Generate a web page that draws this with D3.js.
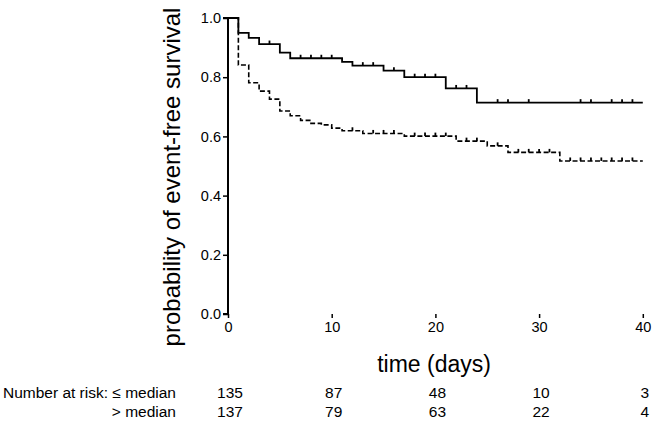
<!DOCTYPE html>
<html>
<head>
<meta charset="utf-8">
<script src="https://cdn.jsdelivr.net/npm/d3@7"></script>
<style>
  html, body { margin: 0; padding: 0; background: #fff; }
  svg { display: block; font-family: "Liberation Sans", Arial, Helvetica, sans-serif; }
</style>
</head>
<body>
<svg id="chart" width="652" height="433"></svg>
<script>
// ---- data ----
const solidTimes  = [1, 2, 3, 5, 6, 11, 12, 15, 17, 21, 24];
const solidValues = [0.950, 0.933, 0.912, 0.883, 0.864, 0.852, 0.839, 0.822, 0.800, 0.762, 0.714];
const solidCensored = [4, 7, 8, 9, 10, 13, 14, 16, 18, 19, 20, 22, 23, 26, 27, 29, 34, 35, 37, 38, 39];

const dashedTimes  = [1, 2, 3, 4, 5, 6, 7, 8, 9, 10, 11, 13, 17, 22, 25, 27, 32];
const dashedValues = [0.841, 0.781, 0.753, 0.726, 0.686, 0.670, 0.654, 0.644, 0.639, 0.628, 0.619, 0.610, 0.601, 0.584, 0.568, 0.546, 0.517];
const dashedCensored = [12, 14, 15, 16, 18, 19, 20, 21, 23, 24, 26, 28, 29, 30, 31, 33, 34, 35, 36, 37, 38, 39];

const xTicks = [0, 10, 20, 30, 40];
const yTicks = [0, 0.2, 0.4, 0.6, 0.8, 1.0];
const riskTimes = [0, 10, 20, 30, 40];
const riskLow  = [135, 87, 48, 10, 3];
const riskHigh = [137, 79, 63, 22, 4];
const riskLabels = ["Number at risk: \u2264 median", "> median"];
const xTitle = "time (days)";
const yTitle = "probability of event-free survival";

// ---- layout ----
const svg = d3.select("#chart");
const x = d3.scaleLinear().domain([0, 40]).range([228, 642.8]);
const y = d3.scaleLinear().domain([0, 1]).range([314, 18]);

function stepPoints(times, values, tEnd) {
  const pts = [[0, 1]];
  times.forEach((t, i) => pts.push([t, values[i]]));
  pts.push([tEnd, values[values.length - 1]]);
  return pts;
}
function valueAt(times, values, t) {
  let v = 1;
  times.forEach((tt, i) => { if (tt <= t) v = values[i]; });
  return v;
}

const line = d3.line().x(d => x(d[0])).y(d => y(d[1])).curve(d3.curveStepAfter);

// axes
const yAxis = d3.axisLeft(y).tickValues(yTicks).tickFormat(d3.format(".1f")).tickSize(5).tickPadding(2);
const xAxis = d3.axisBottom(x).tickValues(xTicks).tickFormat(d3.format("d")).tickSize(4).tickPadding(4);

const gy = svg.append("g").attr("transform", `translate(${x(0)},0)`).call(yAxis);
const gx = svg.append("g").attr("transform", `translate(0,${y(0)})`).call(xAxis);
[gx, gy].forEach(g => {
  g.select(".domain").attr("stroke", "#000").attr("stroke-width", 2);
  g.selectAll(".tick line").attr("stroke", "#000").attr("stroke-width", 1.5);
  g.selectAll(".tick text").attr("fill", "#000").style("font-size", "14.5px")
    .style("font-family", '"Liberation Sans", Arial, sans-serif');
});
gy.select(".domain").attr("d", `M-5,${y(0)}H0V${y(1)}H-5`);
gx.select(".domain").attr("d", `M${x(0)},${y(0)}H${x(40)}V${y(0)+4}`);

// curves
svg.append("path")
  .attr("d", line(stepPoints(solidTimes, solidValues, 40)))
  .attr("fill", "none").attr("stroke", "#000").attr("stroke-width", 1.8);
svg.append("path")
  .attr("d", line(stepPoints(dashedTimes, dashedValues, 40)))
  .attr("fill", "none").attr("stroke", "#000").attr("stroke-width", 1.6)
  .attr("stroke-dasharray", "5,2.5");

// censor marks
function censorMarks(times, values, cens) {
  svg.append("g").selectAll("line").data(cens).join("line")
    .attr("x1", d => x(d)).attr("x2", d => x(d))
    .attr("y1", d => y(valueAt(times, values, d)))
    .attr("y2", d => y(valueAt(times, values, d)) - 3.5)
    .attr("stroke", "#000").attr("stroke-width", 1.8);
}
censorMarks(solidTimes, solidValues, solidCensored);
censorMarks(dashedTimes, dashedValues, dashedCensored);

// titles
svg.append("text")
  .attr("transform", `translate(180,177) rotate(-90)`)
  .attr("text-anchor", "middle").style("font-size", "24px").attr("fill", "#000")
  .text(yTitle);
svg.append("text")
  .attr("x", 434).attr("y", 372)
  .attr("text-anchor", "middle").style("font-size", "23px").attr("fill", "#000")
  .text(xTitle);

// risk table
const rows = [riskLow, riskHigh];
const rowY = [398, 417];
rows.forEach((vals, r) => {
  svg.append("text")
    .attr("x", 176).attr("y", rowY[r]).attr("text-anchor", "end")
    .style("font-size", "15.5px").attr("fill", "#000")
    .text(riskLabels[r]);
  svg.append("g").selectAll("text").data(vals).join("text")
    .attr("x", (d, i) => x(riskTimes[i]) + 2)
    .attr("y", rowY[r]).attr("text-anchor", "middle")
    .style("font-size", "15.5px").attr("fill", "#000")
    .text(d => d);
});
</script>
</body>
</html>
